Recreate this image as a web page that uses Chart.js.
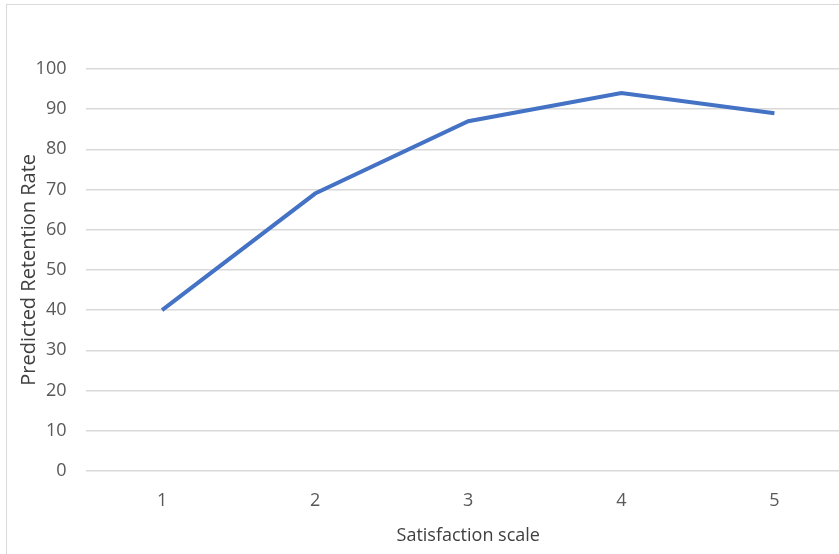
<!DOCTYPE html>
<html lang="en">
<head>
  <meta charset="UTF-8">
  <title>Predicted Retention Rate</title>
  <script src="https://cdn.jsdelivr.net/npm/chart.js@4"></script>
  <style>
    * { box-sizing: border-box; margin:0; padding:0; }
    html, body { width:839px; height:554px; overflow:hidden; background:#fff; }
    #marco {
      position:absolute; left:6px; top:4px; width:900px; height:600px;
      border:1.5px solid #d9d9d9;
    }
    #wrap { position:absolute; left:0; top:0; width:851px; height:560px; }
  </style>
</head>
<body>
<div id="marco"></div>
<div id="wrap"><canvas id="grafica" width="851" height="560"></canvas></div>
<script>
const categorias = ['1', '2', '3', '4', '5'];
const retencion = [40, 69, 87, 94, 89];
const ticksY = [0, 10, 20, 30, 40, 50, 60, 70, 80, 90, 100];

const fuente = "'Open Sans', 'Liberation Sans', sans-serif";

new Chart(document.getElementById('grafica'), {
  type: 'line',
  data: {
    labels: categorias,
    datasets: [{
      label: 'Predicted Retention Rate',
      data: retencion,
      borderColor: '#4472c4',
      borderWidth: 4,
      pointRadius: 0,
      tension: 0,
      fill: false
    }]
  },
  options: {
    responsive: false,
    animation: false,
    layout: { padding: { top: 69, left: 10, right: 0, bottom: 13 } },
    plugins: { legend: { display: false }, tooltip: { enabled: false } },
    scales: {
      x: {
        offset: true,
        grid: { display: false, drawTicks: false },
        border: { display: false },
        ticks: { color: '#595959', font: { family: fuente, size: 18 }, padding: 19 },
        title: { display: true, text: 'Satisfaction scale', color: '#404040', font: { family: fuente, size: 18 }, padding: { top: -5, bottom: 0 } }
      },
      y: {
        min: 0, max: 100,
        afterBuildTicks: s => { s.ticks = ticksY.map(v => ({ value: v })); },
        afterFit: s => { s.width = 75.5; },
        grid: { color: '#d9d9d9', lineWidth: 1.5, drawTicks: false },
        border: { display: false },
        ticks: { color: '#595959', font: { family: fuente, size: 18 }, padding: 19 },
        title: { display: true, text: 'Predicted Retention Rate', color: '#404040', font: { family: fuente, size: 20 }, padding: { top: 7, bottom: 0 } }
      }
    }
  }
});
</script>
</body>
</html>
